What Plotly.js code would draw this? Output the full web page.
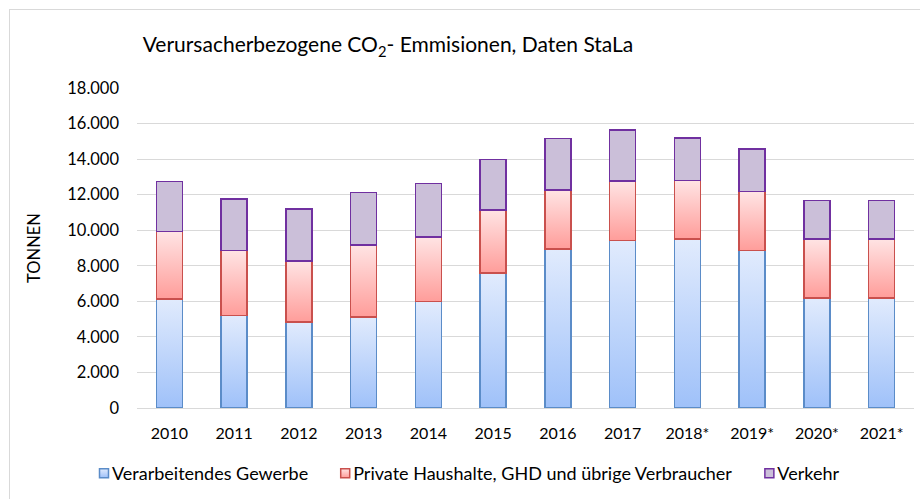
<!DOCTYPE html>
<html>
<head>
<meta charset="utf-8">
<script src="https://cdn.plot.ly/plotly-3.0.1.min.js"></script>
<style>
  html, body { margin:0; padding:0; background:#fff; }
  #wrap { position:relative; width:920px; height:499px; overflow:hidden; }
  #chart { width:920px; height:499px; }
  #frame { position:absolute; left:9px; top:9px; width:1000px; height:1000px; border:1px solid #d9d9d9; pointer-events:none; }
</style>
</head>
<body>
<div id="wrap">
  <div id="chart"></div>
  <div id="frame"></div>
</div>
<script>
const years = ['2010','2011','2012','2013','2014','2015','2016','2017','2018*','2019*','2020*','2021*'];
const gewerbe = [6130, 5190, 4840, 5120, 5980, 7590, 8940, 9430, 9500, 8850, 6190, 6190];
const haushalte = [3790, 3680, 3440, 4050, 3640, 3560, 3320, 3340, 3300, 3320, 3310, 3330];
const verkehr = [2810, 2880, 2900, 2960, 3020, 2820, 2890, 2880, 2400, 2410, 2160, 2160];
const seriesNames = ['Verarbeitendes Gewerbe', 'Private Haushalte, GHD und übrige Verbraucher', 'Verkehr'];
const titleText = 'Verursacherbezogene CO<sub>2</sub>- Emmisionen, Daten StaLa';
const yTitle = 'TONNEN';

const FONT = 'Lato, "Open Sans", sans-serif';
const fills = ['#b9d1f9', '#ffc2c0', '#cbbfd9'];
const lines = ['#5b8cc8', '#c9504d', '#7030a0'];

const data = [gewerbe, haushalte, verkehr].map((vals, i) => ({
  type: 'bar',
  x: years,
  y: vals,
  name: seriesNames[i],
  width: 0.4,
  marker: { color: fills[i], line: { color: lines[i], width: 1.5 } }
}));

const layout = {
  width: 920, height: 499,
  barmode: 'stack',
  separators: ',.',
  paper_bgcolor: 'rgba(0,0,0,0)',
  plot_bgcolor: 'rgba(0,0,0,0)',
  margin: { l: 137, r: 6, t: 88, b: 91 },
  font: { family: FONT, color: '#000', size: 16 },
  title: {
    text: titleText,
    font: { family: FONT, size: 21, color: '#000' },
    xref: 'container', x: 388/920, xanchor: 'center',
    yref: 'container', y: 1 - 45/499, yanchor: 'middle'
  },
  xaxis: {
    type: 'category',
    showgrid: false,
    showline: true, linecolor: '#d9d9d9', linewidth: 1,
    ticks: '', ticklabelstandoff: 11,
    tickfont: { family: FONT, size: 16, color: '#000' }
  },
  yaxis: {
    range: [0, 18000], dtick: 2000, tickformat: ',d',
    showgrid: true, gridcolor: '#d9d9d9', gridwidth: 1,
    zeroline: false, showline: false,
    ticks: '', ticklabelstandoff: 17,
    tickfont: { family: FONT, size: 16.5, color: '#000' },
    title: { text: yTitle, font: { family: FONT, size: 16.5, color: '#000' }, standoff: 22 }
  },
  legend: {
    orientation: 'h',
    xref: 'container', x: 72/920, xanchor: 'left',
    yref: 'container', y: 1 - 455/499, yanchor: 'top',
    font: { family: FONT, size: 18, color: '#000' },
    itemwidth: 30,
    traceorder: 'normal'
  },
  showlegend: true
};

Plotly.newPlot('chart', data, layout, { staticPlot: true, displayModeBar: false }).then(gd => {
  const ns = 'http://www.w3.org/2000/svg';
  const svg = gd.querySelector('svg.main-svg');
  let defs = svg.querySelector('defs');
  if (!defs) { defs = document.createElementNS(ns, 'defs'); svg.insertBefore(defs, svg.firstChild); }
  const grads = [['#e1ebfd', '#9fc1f9'], ['#ffe4e4', '#ff9d9a'], ['#cbbfd9', '#cbbfd9']];
  grads.forEach((g, i) => {
    const lg = document.createElementNS(ns, 'linearGradient');
    lg.setAttribute('id', 'grad' + i);
    lg.setAttribute('x1', '0'); lg.setAttribute('y1', '0');
    lg.setAttribute('x2', '0'); lg.setAttribute('y2', '1');
    [[0, g[0]], [1, g[1]]].forEach(([o, c]) => {
      const s = document.createElementNS(ns, 'stop');
      s.setAttribute('offset', o); s.setAttribute('stop-color', c);
      lg.appendChild(s);
    });
    defs.appendChild(lg);
  });
  gd.querySelectorAll('.barlayer .trace').forEach((tr, i) => {
    tr.querySelectorAll('path').forEach(p => { p.style.fill = 'url(#grad' + i + ')'; });
  });
  gd.querySelectorAll('.legend .traces').forEach((tr, i) => {
    const lp = tr.querySelector('.legendpoints');
    if (lp) lp.setAttribute('transform', 'translate(12,0)');
    tr.querySelectorAll('.legendpoints path').forEach(p => {
      p.setAttribute('d', 'M4.5,4.5H-4.5V-4.5H4.5Z');
      p.style.fill = 'url(#grad' + i + ')';
      p.style.strokeWidth = '1.5px';
    });
  });
});
</script>
</body>
</html>
